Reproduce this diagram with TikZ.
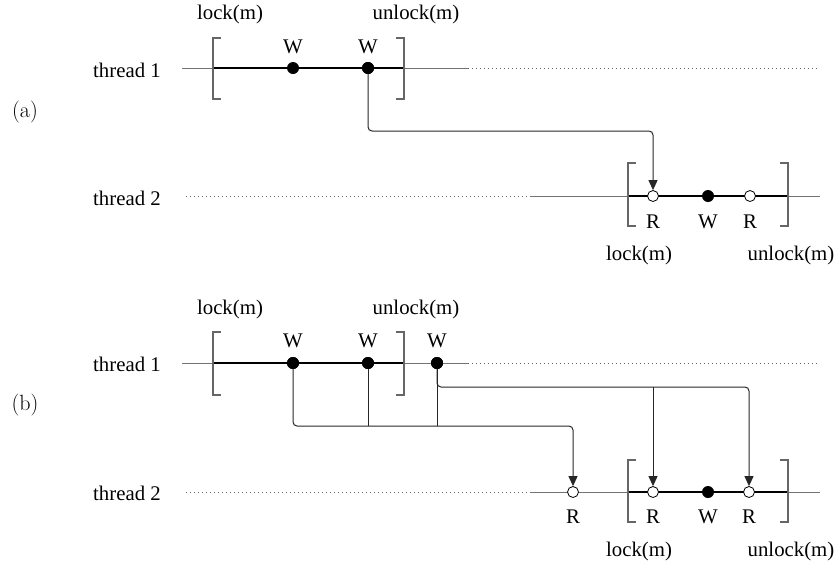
\documentclass[tikz,border=0pt]{standalone}
\usepackage{fontspec}
\newfontfamily\tm{Liberation Serif}
\usetikzlibrary{arrows.meta}
\begin{document}
\begin{tikzpicture}[x=1pt,y=-1pt,
  lbl/.style={inner sep=0pt, anchor=base, font=\tm\fontsize{20.8}{24}\selectfont},
  tag/.style={inner sep=0pt, font=\fontsize{22}{26}\selectfont},
  thin/.style={draw=black!55, line width=1pt},
  dots/.style={draw=black!60, line width=1pt, dash pattern=on 1pt off 3pt},
  crit/.style={draw=black, line width=2pt},
  brk/.style={draw=black!60, line width=1.3pt},
  wdot/.style={circle, fill=black, minimum size=12pt, inner sep=0pt},
  rdot/.style={circle, draw=black, fill=white, line width=0.8pt, minimum size=11pt, inner sep=0pt},
  link/.style={draw=black!85, line width=1pt, rounded corners=4pt},
  conn/.style={link, -{Triangle[length=10pt,width=9pt]}}]
\useasboundingbox (0,0) rectangle (837,563);

% ---------- (a) ----------
\node[tag] (ta) at (25,112) {(a)};
\node[lbl] (a1lbl) at (127,77) {thread 1};
\node[lbl] (a2lbl) at (127,205) {thread 2};
\node[lbl] (alock1) at (230,19) {lock(m)};
\node[lbl] (aunlock1) at (416,19) {unlock(m)};

\draw[thin] (182,68) -- (468,68);
\draw[dots] (468,68) -- (818,68);
\draw[crit] (213,68) -- (404,68);
\draw[brk] (221,38) -- (213,38) -- (213,99) -- (221,99);
\draw[brk] (396,38) -- (404,38) -- (404,99) -- (396,99);
\node[wdot] (aw1) at (293,68) {};
\node[wdot] (aw2) at (368,68) {};
\node[lbl] at (293,53) {W};
\node[lbl] at (368,53) {W};

\draw[dots] (186,196) -- (530,196);
\draw[thin] (530,196) -- (820,196);
\draw[crit] (628,196) -- (788,196);
\draw[brk] (636,163) -- (628,163) -- (628,226) -- (636,226);
\draw[brk] (780,163) -- (788,163) -- (788,226) -- (780,226);
\node[rdot] (ar1) at (653,196) {};
\node[wdot] (aw3) at (708,196) {};
\node[rdot] (ar2) at (750,196) {};
\node[lbl] at (653,228) {R};
\node[lbl] at (708,228) {W};
\node[lbl] at (750,228) {R};
\node[lbl] (alock2) at (639,260) {lock(m)};
\node[lbl] (aunlock2) at (791,260) {unlock(m)};

\coordinate (ca) at (653,131);
\draw[conn] (aw2) |- (ca) -- (ar1);
\node[wdot] at (aw2) {};

% ---------- (b) ----------
\node[tag] (tb) at (25,405) {(b)};
\node[lbl] (b1lbl) at (127,371) {thread 1};
\node[lbl] (b2lbl) at (127,500) {thread 2};
\node[lbl] (block1) at (230,314) {lock(m)};
\node[lbl] (bunlock1) at (416,314) {unlock(m)};

\draw[thin] (182,363) -- (468,363);
\draw[dots] (468,363) -- (818,363);
\draw[crit] (213,363) -- (404,363);
\draw[brk] (221,332) -- (213,332) -- (213,395) -- (221,395);
\draw[brk] (396,332) -- (404,332) -- (404,395) -- (396,395);

\draw[dots] (186,492) -- (530,492);
\draw[thin] (530,492) -- (820,492);
\draw[crit] (628,492) -- (788,492);
\draw[brk] (636,460) -- (628,460) -- (628,522) -- (636,522);
\draw[brk] (780,460) -- (788,460) -- (788,522) -- (780,522);

\coordinate (j1) at (573,426);
\coordinate (j2) at (749,387);
\node[rdot] (br0) at (573,492) {};
\node[rdot] (br1) at (653,492) {};
\node[wdot] (bw4) at (708,492) {};
\node[rdot] (br2) at (749,492) {};

\node[wdot] (bw1) at (293,363) {};
\node[wdot] (bw2) at (368,363) {};
\node[wdot] (bw3) at (437,363) {};

\draw[conn] (bw1) |- (j1) -- (br0);
\draw[link] (bw2) -- (bw2 |- j1);
\draw[link] (bw3) -- (bw3 |- j1);
\draw[conn] (bw3) |- (j2) -- (br2);
\draw[conn] (br1 |- j2) -- (br1);

\node[wdot] at (bw1) {};
\node[wdot] at (bw2) {};
\node[wdot] at (bw3) {};

\node[lbl] at (293,347) {W};
\node[lbl] at (368,347) {W};
\node[lbl] at (437,347) {W};
\node[lbl] at (573,523) {R};
\node[lbl] at (653,523) {R};
\node[lbl] at (708,523) {W};
\node[lbl] at (749,523) {R};
\node[lbl] (block2) at (639,556) {lock(m)};
\node[lbl] (bunlock2) at (791,556) {unlock(m)};
\end{tikzpicture}
\end{document}
